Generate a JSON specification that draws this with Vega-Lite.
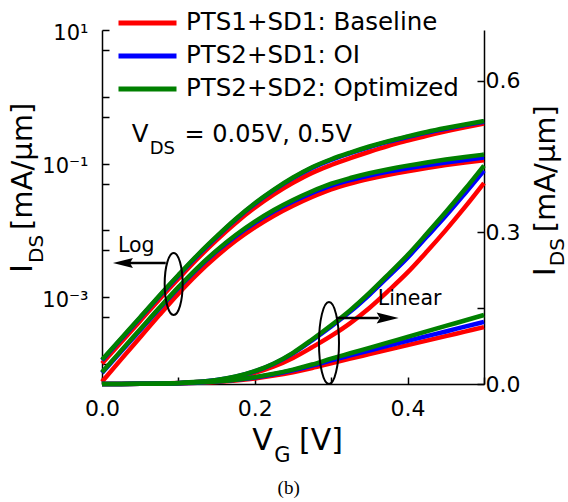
{
  "$schema": "https://vega.github.io/schema/vega-lite/v6.json",
  "width": 382,
  "height": 354,
  "autosize": {"type": "none"},
  "padding": {"left": 102, "top": 30, "right": 84, "bottom": 118},
  "background": "white",
  "config": {
    "view": {"stroke": null},
    "font": "DejaVu Sans",
    "axis": {"domainColor": "black", "domainWidth": 1.5, "tickColor": "black", "tickWidth": 1.5, "tickSize": -7, "labelColor": "black", "labelFont": "DejaVu Sans", "labelFontSize": 22, "grid": false, "labelOverlap": false, "labelFlush": false}
  },
  "datasets": {
    "iv": [
      {"dev": "PTS1+SD1: Baseline", "vds": 0.5, "vg": 0, "id": 0.0001012},
      {"dev": "PTS1+SD1: Baseline", "vds": 0.5, "vg": 0.025, "id": 0.000211},
      {"dev": "PTS1+SD1: Baseline", "vds": 0.5, "vg": 0.05, "id": 0.00044},
      {"dev": "PTS1+SD1: Baseline", "vds": 0.5, "vg": 0.075, "id": 0.000924},
      {"dev": "PTS1+SD1: Baseline", "vds": 0.5, "vg": 0.1, "id": 0.001883},
      {"dev": "PTS1+SD1: Baseline", "vds": 0.5, "vg": 0.125, "id": 0.00376},
      {"dev": "PTS1+SD1: Baseline", "vds": 0.5, "vg": 0.15, "id": 0.00713},
      {"dev": "PTS1+SD1: Baseline", "vds": 0.5, "vg": 0.175, "id": 0.01288},
      {"dev": "PTS1+SD1: Baseline", "vds": 0.5, "vg": 0.2, "id": 0.02184},
      {"dev": "PTS1+SD1: Baseline", "vds": 0.5, "vg": 0.225, "id": 0.0346},
      {"dev": "PTS1+SD1: Baseline", "vds": 0.5, "vg": 0.25, "id": 0.05152},
      {"dev": "PTS1+SD1: Baseline", "vds": 0.5, "vg": 0.275, "id": 0.0726},
      {"dev": "PTS1+SD1: Baseline", "vds": 0.5, "vg": 0.3, "id": 0.0951},
      {"dev": "PTS1+SD1: Baseline", "vds": 0.5, "vg": 0.325, "id": 0.1205},
      {"dev": "PTS1+SD1: Baseline", "vds": 0.5, "vg": 0.35, "id": 0.1503},
      {"dev": "PTS1+SD1: Baseline", "vds": 0.5, "vg": 0.375, "id": 0.1845},
      {"dev": "PTS1+SD1: Baseline", "vds": 0.5, "vg": 0.4, "id": 0.2206},
      {"dev": "PTS1+SD1: Baseline", "vds": 0.5, "vg": 0.425, "id": 0.2614},
      {"dev": "PTS1+SD1: Baseline", "vds": 0.5, "vg": 0.45, "id": 0.3043},
      {"dev": "PTS1+SD1: Baseline", "vds": 0.5, "vg": 0.475, "id": 0.3496},
      {"dev": "PTS1+SD1: Baseline", "vds": 0.5, "vg": 0.5, "id": 0.3974},
      {"dev": "PTS1+SD1: Baseline", "vds": 0.05, "vg": 0, "id": 0.000054},
      {"dev": "PTS1+SD1: Baseline", "vds": 0.05, "vg": 0.025, "id": 0.000117},
      {"dev": "PTS1+SD1: Baseline", "vds": 0.05, "vg": 0.05, "id": 0.000251},
      {"dev": "PTS1+SD1: Baseline", "vds": 0.05, "vg": 0.075, "id": 0.000538},
      {"dev": "PTS1+SD1: Baseline", "vds": 0.05, "vg": 0.1, "id": 0.001128},
      {"dev": "PTS1+SD1: Baseline", "vds": 0.05, "vg": 0.125, "id": 0.00223},
      {"dev": "PTS1+SD1: Baseline", "vds": 0.05, "vg": 0.15, "id": 0.00408},
      {"dev": "PTS1+SD1: Baseline", "vds": 0.05, "vg": 0.175, "id": 0.00697},
      {"dev": "PTS1+SD1: Baseline", "vds": 0.05, "vg": 0.2, "id": 0.01107},
      {"dev": "PTS1+SD1: Baseline", "vds": 0.05, "vg": 0.225, "id": 0.01656},
      {"dev": "PTS1+SD1: Baseline", "vds": 0.05, "vg": 0.25, "id": 0.02337},
      {"dev": "PTS1+SD1: Baseline", "vds": 0.05, "vg": 0.275, "id": 0.03157},
      {"dev": "PTS1+SD1: Baseline", "vds": 0.05, "vg": 0.3, "id": 0.041},
      {"dev": "PTS1+SD1: Baseline", "vds": 0.05, "vg": 0.325, "id": 0.05016},
      {"dev": "PTS1+SD1: Baseline", "vds": 0.05, "vg": 0.35, "id": 0.05907},
      {"dev": "PTS1+SD1: Baseline", "vds": 0.05, "vg": 0.375, "id": 0.06798},
      {"dev": "PTS1+SD1: Baseline", "vds": 0.05, "vg": 0.4, "id": 0.07689},
      {"dev": "PTS1+SD1: Baseline", "vds": 0.05, "vg": 0.425, "id": 0.0858},
      {"dev": "PTS1+SD1: Baseline", "vds": 0.05, "vg": 0.45, "id": 0.09471},
      {"dev": "PTS1+SD1: Baseline", "vds": 0.05, "vg": 0.475, "id": 0.1036},
      {"dev": "PTS1+SD1: Baseline", "vds": 0.05, "vg": 0.5, "id": 0.1125},
      {"dev": "PTS2+SD1: OI", "vds": 0.5, "vg": 0, "id": 0.000113},
      {"dev": "PTS2+SD1: OI", "vds": 0.5, "vg": 0.025, "id": 0.000235},
      {"dev": "PTS2+SD1: OI", "vds": 0.5, "vg": 0.05, "id": 0.00049},
      {"dev": "PTS2+SD1: OI", "vds": 0.5, "vg": 0.075, "id": 0.00103},
      {"dev": "PTS2+SD1: OI", "vds": 0.5, "vg": 0.1, "id": 0.0021},
      {"dev": "PTS2+SD1: OI", "vds": 0.5, "vg": 0.125, "id": 0.00418},
      {"dev": "PTS2+SD1: OI", "vds": 0.5, "vg": 0.15, "id": 0.00794},
      {"dev": "PTS2+SD1: OI", "vds": 0.5, "vg": 0.175, "id": 0.0145},
      {"dev": "PTS2+SD1: OI", "vds": 0.5, "vg": 0.2, "id": 0.0249},
      {"dev": "PTS2+SD1: OI", "vds": 0.5, "vg": 0.225, "id": 0.0399},
      {"dev": "PTS2+SD1: OI", "vds": 0.5, "vg": 0.25, "id": 0.0605},
      {"dev": "PTS2+SD1: OI", "vds": 0.5, "vg": 0.275, "id": 0.0862},
      {"dev": "PTS2+SD1: OI", "vds": 0.5, "vg": 0.3, "id": 0.1137},
      {"dev": "PTS2+SD1: OI", "vds": 0.5, "vg": 0.325, "id": 0.1431},
      {"dev": "PTS2+SD1: OI", "vds": 0.5, "vg": 0.35, "id": 0.1764},
      {"dev": "PTS2+SD1: OI", "vds": 0.5, "vg": 0.375, "id": 0.2127},
      {"dev": "PTS2+SD1: OI", "vds": 0.5, "vg": 0.4, "id": 0.2499},
      {"dev": "PTS2+SD1: OI", "vds": 0.5, "vg": 0.425, "id": 0.291},
      {"dev": "PTS2+SD1: OI", "vds": 0.5, "vg": 0.45, "id": 0.3325},
      {"dev": "PTS2+SD1: OI", "vds": 0.5, "vg": 0.475, "id": 0.3767},
      {"dev": "PTS2+SD1: OI", "vds": 0.5, "vg": 0.5, "id": 0.422},
      {"dev": "PTS2+SD1: OI", "vds": 0.05, "vg": 0, "id": 0.000073},
      {"dev": "PTS2+SD1: OI", "vds": 0.05, "vg": 0.025, "id": 0.000153},
      {"dev": "PTS2+SD1: OI", "vds": 0.05, "vg": 0.05, "id": 0.00032},
      {"dev": "PTS2+SD1: OI", "vds": 0.05, "vg": 0.075, "id": 0.00067},
      {"dev": "PTS2+SD1: OI", "vds": 0.05, "vg": 0.1, "id": 0.00137},
      {"dev": "PTS2+SD1: OI", "vds": 0.05, "vg": 0.125, "id": 0.00267},
      {"dev": "PTS2+SD1: OI", "vds": 0.05, "vg": 0.15, "id": 0.00485},
      {"dev": "PTS2+SD1: OI", "vds": 0.05, "vg": 0.175, "id": 0.0082},
      {"dev": "PTS2+SD1: OI", "vds": 0.05, "vg": 0.2, "id": 0.01296},
      {"dev": "PTS2+SD1: OI", "vds": 0.05, "vg": 0.225, "id": 0.01929},
      {"dev": "PTS2+SD1: OI", "vds": 0.05, "vg": 0.25, "id": 0.02708},
      {"dev": "PTS2+SD1: OI", "vds": 0.05, "vg": 0.275, "id": 0.03638},
      {"dev": "PTS2+SD1: OI", "vds": 0.05, "vg": 0.3, "id": 0.04675},
      {"dev": "PTS2+SD1: OI", "vds": 0.05, "vg": 0.325, "id": 0.05654},
      {"dev": "PTS2+SD1: OI", "vds": 0.05, "vg": 0.35, "id": 0.06623},
      {"dev": "PTS2+SD1: OI", "vds": 0.05, "vg": 0.375, "id": 0.07581},
      {"dev": "PTS2+SD1: OI", "vds": 0.05, "vg": 0.4, "id": 0.08528},
      {"dev": "PTS2+SD1: OI", "vds": 0.05, "vg": 0.425, "id": 0.09464},
      {"dev": "PTS2+SD1: OI", "vds": 0.05, "vg": 0.45, "id": 0.1039},
      {"dev": "PTS2+SD1: OI", "vds": 0.05, "vg": 0.475, "id": 0.1134},
      {"dev": "PTS2+SD1: OI", "vds": 0.05, "vg": 0.5, "id": 0.1228},
      {"dev": "PTS2+SD2: Optimized", "vds": 0.5, "vg": 0, "id": 0.000115},
      {"dev": "PTS2+SD2: Optimized", "vds": 0.5, "vg": 0.025, "id": 0.00024},
      {"dev": "PTS2+SD2: Optimized", "vds": 0.5, "vg": 0.05, "id": 0.0005},
      {"dev": "PTS2+SD2: Optimized", "vds": 0.5, "vg": 0.075, "id": 0.00105},
      {"dev": "PTS2+SD2: Optimized", "vds": 0.5, "vg": 0.1, "id": 0.00214},
      {"dev": "PTS2+SD2: Optimized", "vds": 0.5, "vg": 0.125, "id": 0.00427},
      {"dev": "PTS2+SD2: Optimized", "vds": 0.5, "vg": 0.15, "id": 0.0081},
      {"dev": "PTS2+SD2: Optimized", "vds": 0.5, "vg": 0.175, "id": 0.0148},
      {"dev": "PTS2+SD2: Optimized", "vds": 0.5, "vg": 0.2, "id": 0.0254},
      {"dev": "PTS2+SD2: Optimized", "vds": 0.5, "vg": 0.225, "id": 0.0407},
      {"dev": "PTS2+SD2: Optimized", "vds": 0.5, "vg": 0.25, "id": 0.0617},
      {"dev": "PTS2+SD2: Optimized", "vds": 0.5, "vg": 0.275, "id": 0.088},
      {"dev": "PTS2+SD2: Optimized", "vds": 0.5, "vg": 0.3, "id": 0.116},
      {"dev": "PTS2+SD2: Optimized", "vds": 0.5, "vg": 0.325, "id": 0.146},
      {"dev": "PTS2+SD2: Optimized", "vds": 0.5, "vg": 0.35, "id": 0.18},
      {"dev": "PTS2+SD2: Optimized", "vds": 0.5, "vg": 0.375, "id": 0.217},
      {"dev": "PTS2+SD2: Optimized", "vds": 0.5, "vg": 0.4, "id": 0.255},
      {"dev": "PTS2+SD2: Optimized", "vds": 0.5, "vg": 0.425, "id": 0.297},
      {"dev": "PTS2+SD2: Optimized", "vds": 0.5, "vg": 0.45, "id": 0.34},
      {"dev": "PTS2+SD2: Optimized", "vds": 0.5, "vg": 0.475, "id": 0.385},
      {"dev": "PTS2+SD2: Optimized", "vds": 0.5, "vg": 0.5, "id": 0.432},
      {"dev": "PTS2+SD2: Optimized", "vds": 0.05, "vg": 0, "id": 0.000075},
      {"dev": "PTS2+SD2: Optimized", "vds": 0.05, "vg": 0.025, "id": 0.000158},
      {"dev": "PTS2+SD2: Optimized", "vds": 0.05, "vg": 0.05, "id": 0.00033},
      {"dev": "PTS2+SD2: Optimized", "vds": 0.05, "vg": 0.075, "id": 0.00069},
      {"dev": "PTS2+SD2: Optimized", "vds": 0.05, "vg": 0.1, "id": 0.00141},
      {"dev": "PTS2+SD2: Optimized", "vds": 0.05, "vg": 0.125, "id": 0.00275},
      {"dev": "PTS2+SD2: Optimized", "vds": 0.05, "vg": 0.15, "id": 0.005},
      {"dev": "PTS2+SD2: Optimized", "vds": 0.05, "vg": 0.175, "id": 0.0085},
      {"dev": "PTS2+SD2: Optimized", "vds": 0.05, "vg": 0.2, "id": 0.0135},
      {"dev": "PTS2+SD2: Optimized", "vds": 0.05, "vg": 0.225, "id": 0.0202},
      {"dev": "PTS2+SD2: Optimized", "vds": 0.05, "vg": 0.25, "id": 0.0285},
      {"dev": "PTS2+SD2: Optimized", "vds": 0.05, "vg": 0.275, "id": 0.0385},
      {"dev": "PTS2+SD2: Optimized", "vds": 0.05, "vg": 0.3, "id": 0.05},
      {"dev": "PTS2+SD2: Optimized", "vds": 0.05, "vg": 0.325, "id": 0.0608},
      {"dev": "PTS2+SD2: Optimized", "vds": 0.05, "vg": 0.35, "id": 0.0716},
      {"dev": "PTS2+SD2: Optimized", "vds": 0.05, "vg": 0.375, "id": 0.0824},
      {"dev": "PTS2+SD2: Optimized", "vds": 0.05, "vg": 0.4, "id": 0.0932},
      {"dev": "PTS2+SD2: Optimized", "vds": 0.05, "vg": 0.425, "id": 0.104},
      {"dev": "PTS2+SD2: Optimized", "vds": 0.05, "vg": 0.45, "id": 0.1148},
      {"dev": "PTS2+SD2: Optimized", "vds": 0.05, "vg": 0.475, "id": 0.1256},
      {"dev": "PTS2+SD2: Optimized", "vds": 0.05, "vg": 0.5, "id": 0.1364}
    ]
  },
  "layer": [
    {
      "layer": [
        {
          "data": {"name": "iv"},
          "mark": {"type": "line", "strokeWidth": 4.5, "interpolate": "monotone", "strokeJoin": "round"},
          "encoding": {
            "x": {"field": "vg", "type": "quantitative", "scale": {"domain": [0, 0.5], "nice": false, "zero": false},
                  "axis": {"title": null, "values": [0, 0.1, 0.2, 0.3, 0.4, 0.5], "labelExpr": "datum.value == 0 || datum.value == 0.2 || datum.value == 0.4 ? format(datum.value, '.1f') : ''", "labelPadding": 21.6}},
            "y": {"field": "id", "type": "quantitative", "scale": {"type": "log", "domain": [0.00005, 10]},
                  "axis": {"title": null, "orient": "left", "values": [10, 5, 1, 0.5, 0.1, 0.05, 0.01, 0.005, 0.001, 0.0005, 0.0001, 0.00005], "labelExpr": "datum.value == 10 ? '10¹' : datum.value == 0.1 ? '10⁻¹' : datum.value == 0.001 ? '10⁻³' : ''", "labelFontSize": 21, "labelPadding": 21, "labelOffset": 3}},
            "color": {"field": "dev", "type": "nominal", "sort": null,
                      "scale": {"domain": ["PTS1+SD1: Baseline", "PTS2+SD1: OI", "PTS2+SD2: Optimized"], "range": ["#ff0000", "#0000ff", "#008000"]},
                      "legend": {"title": null, "orient": "none", "legendX": 14, "legendY": -21, "symbolType": "stroke", "symbolSize": 3364, "symbolStrokeWidth": 5, "labelFontSize": 24.5, "labelFont": "DejaVu Sans", "labelColor": "black", "labelOffset": 7, "clipHeight": 28, "rowPadding": 5, "padding": 0, "offset": 0, "labelLimit": 0}},
            "detail": {"field": "vds", "type": "nominal"}
          }
        },
        {
          "data": {"values": [{}]},
          "mark": {"type": "text", "text": "Log", "fontSize": 20.5, "align": "left", "baseline": "alphabetic", "color": "black"},
          "encoding": {
            "x": {"datum": 0.0208, "type": "quantitative", "scale": {"domain": [0, 0.5], "nice": false, "zero": false}},
            "y": {"datum": 0.00474, "type": "quantitative", "scale": {"type": "log", "domain": [0.00005, 10]}}
          }
        },
        {
          "data": {"values": [{}]},
          "mark": {"type": "rule", "strokeWidth": 2.5, "color": "black"},
          "encoding": {
            "x": {"datum": 0.026, "type": "quantitative", "scale": {"domain": [0, 0.5], "nice": false, "zero": false}},
            "x2": {"datum": 0.0834},
            "y": {"datum": 0.00324, "type": "quantitative", "scale": {"type": "log", "domain": [0.00005, 10]}}
          }
        },
        {
          "data": {"values": [{}]},
          "mark": {"type": "point", "shape": "M-1,0L1,-0.5L0.7,0L1,0.5Z", "size": 400, "filled": true, "color": "black", "opacity": 1},
          "encoding": {
            "x": {"datum": 0.0274, "type": "quantitative", "scale": {"domain": [0, 0.5], "nice": false, "zero": false}},
            "y": {"datum": 0.00324, "type": "quantitative", "scale": {"type": "log", "domain": [0.00005, 10]}}
          }
        },
        {
          "data": {"values": [{}]},
          "mark": {"type": "point", "shape": "M0,-1C0.16,-1,0.29,-0.55,0.29,0C0.29,0.55,0.16,1,0,1C-0.16,1,-0.29,0.55,-0.29,0C-0.29,-0.55,-0.16,-1,0,-1Z", "size": 3844, "filled": false, "color": "black", "strokeWidth": 2, "opacity": 1},
          "encoding": {
            "x": {"datum": 0.0938, "type": "quantitative", "scale": {"domain": [0, 0.5], "nice": false, "zero": false}},
            "y": {"datum": 0.001572, "type": "quantitative", "scale": {"type": "log", "domain": [0.00005, 10]}}
          }
        },
        {
          "data": {"values": [{}]},
          "mark": {"type": "text", "text": "V", "fontSize": 24.5, "align": "left", "baseline": "alphabetic", "color": "black"},
          "encoding": {
            "x": {"datum": 0.0391, "type": "quantitative", "scale": {"domain": [0, 0.5], "nice": false, "zero": false}},
            "y": {"datum": 0.2104, "type": "quantitative", "scale": {"type": "log", "domain": [0.00005, 10]}}
          }
        },
        {
          "data": {"values": [{}]},
          "mark": {"type": "text", "text": "DS", "fontSize": 18, "align": "left", "baseline": "alphabetic", "color": "black"},
          "encoding": {
            "x": {"datum": 0.0625, "type": "quantitative", "scale": {"domain": [0, 0.5], "nice": false, "zero": false}},
            "y": {"datum": 0.1367, "type": "quantitative", "scale": {"type": "log", "domain": [0.00005, 10]}}
          }
        },
        {
          "data": {"values": [{}]},
          "mark": {"type": "text", "text": "= 0.05V, 0.5V", "fontSize": 24, "align": "left", "baseline": "alphabetic", "color": "black"},
          "encoding": {
            "x": {"datum": 0.1081, "type": "quantitative", "scale": {"domain": [0, 0.5], "nice": false, "zero": false}},
            "y": {"datum": 0.2104, "type": "quantitative", "scale": {"type": "log", "domain": [0.00005, 10]}}
          }
        },
        {
          "data": {"values": [{}]},
          "mark": {"type": "text", "text": "I", "fontSize": 30, "angle": 270, "align": "left", "baseline": "alphabetic", "color": "black"},
          "encoding": {
            "x": {"datum": -0.0912, "type": "quantitative", "scale": {"domain": [0, 0.5], "nice": false, "zero": false}},
            "y": {"datum": 0.0023, "type": "quantitative", "scale": {"type": "log", "domain": [0.00005, 10]}}
          }
        },
        {
          "data": {"values": [{}]},
          "mark": {"type": "text", "text": "DS", "fontSize": 20, "angle": 270, "align": "left", "baseline": "alphabetic", "color": "black"},
          "encoding": {
            "x": {"datum": -0.0769, "type": "quantitative", "scale": {"domain": [0, 0.5], "nice": false, "zero": false}},
            "y": {"datum": 0.00324, "type": "quantitative", "scale": {"type": "log", "domain": [0.00005, 10]}}
          }
        },
        {
          "data": {"values": [{}]},
          "mark": {"type": "text", "text": "[mA/μm]", "fontSize": 29, "angle": 270, "align": "left", "baseline": "alphabetic", "color": "black"},
          "encoding": {
            "x": {"datum": -0.0912, "type": "quantitative", "scale": {"domain": [0, 0.5], "nice": false, "zero": false}},
            "y": {"datum": 0.01012, "type": "quantitative", "scale": {"type": "log", "domain": [0.00005, 10]}}
          }
        }
      ]
    },
    {
      "layer": [
        {
          "data": {"name": "iv"},
          "mark": {"type": "line", "strokeWidth": 4.5, "interpolate": "monotone", "strokeJoin": "round"},
          "encoding": {
            "x": {"field": "vg", "type": "quantitative", "scale": {"domain": [0, 0.5], "nice": false, "zero": false}},
            "y": {"field": "id", "type": "quantitative", "scale": {"domain": [0, 0.7], "nice": false, "zero": false},
                  "axis": {"title": null, "orient": "right", "values": [0, 0.15, 0.3, 0.45, 0.6], "labelExpr": "datum.value == 0 || datum.value == 0.3 || datum.value == 0.6 ? format(datum.value, '.1f') : ''", "labelPadding": 8}},
            "color": {"field": "dev", "type": "nominal", "sort": null,
                      "scale": {"domain": ["PTS1+SD1: Baseline", "PTS2+SD1: OI", "PTS2+SD2: Optimized"], "range": ["#ff0000", "#0000ff", "#008000"]},
                      "legend": {"title": null, "orient": "none", "legendX": 14, "legendY": -21, "symbolType": "stroke", "symbolSize": 3364, "symbolStrokeWidth": 5, "labelFontSize": 24.5, "labelFont": "DejaVu Sans", "labelColor": "black", "labelOffset": 7, "clipHeight": 28, "rowPadding": 5, "padding": 0, "offset": 0, "labelLimit": 0}},
            "detail": {"field": "vds", "type": "nominal"}
          }
        },
        {
          "data": {"values": [{}]},
          "mark": {"type": "text", "text": "Linear", "fontSize": 20.5, "align": "left", "baseline": "alphabetic", "color": "black"},
          "encoding": {
            "x": {"datum": 0.3609, "type": "quantitative", "scale": {"domain": [0, 0.5], "nice": false, "zero": false}},
            "y": {"datum": 0.1559, "type": "quantitative", "scale": {"domain": [0, 0.7], "nice": false, "zero": false}}
          }
        },
        {
          "data": {"values": [{}]},
          "mark": {"type": "rule", "strokeWidth": 2.5, "color": "black"},
          "encoding": {
            "x": {"datum": 0.3062, "type": "quantitative", "scale": {"domain": [0, 0.5], "nice": false, "zero": false}},
            "x2": {"datum": 0.3622},
            "y": {"datum": 0.1303, "type": "quantitative", "scale": {"domain": [0, 0.7], "nice": false, "zero": false}}
          }
        },
        {
          "data": {"values": [{}]},
          "mark": {"type": "point", "shape": "M1,0L-1,-0.5L-0.7,0L-1,0.5Z", "size": 484, "filled": true, "color": "black", "opacity": 1},
          "encoding": {
            "x": {"datum": 0.3739, "type": "quantitative", "scale": {"domain": [0, 0.5], "nice": false, "zero": false}},
            "y": {"datum": 0.1303, "type": "quantitative", "scale": {"domain": [0, 0.7], "nice": false, "zero": false}}
          }
        },
        {
          "data": {"values": [{}]},
          "mark": {"type": "point", "shape": "M0,-1C0.135,-1,0.244,-0.55,0.244,0C0.244,0.55,0.135,1,0,1C-0.135,1,-0.244,0.55,-0.244,0C-0.244,-0.55,-0.135,-1,0,-1Z", "size": 6724, "filled": false, "color": "black", "strokeWidth": 2, "opacity": 1},
          "encoding": {
            "x": {"datum": 0.2971, "type": "quantitative", "scale": {"domain": [0, 0.5], "nice": false, "zero": false}},
            "y": {"datum": 0.0809, "type": "quantitative", "scale": {"domain": [0, 0.7], "nice": false, "zero": false}}
          }
        },
        {
          "data": {"values": [{}]},
          "mark": {"type": "text", "text": "I", "fontSize": 30, "angle": 270, "align": "left", "baseline": "alphabetic", "color": "black"},
          "encoding": {
            "x": {"datum": 0.5928, "type": "quantitative", "scale": {"domain": [0, 0.5], "nice": false, "zero": false}},
            "y": {"datum": 0.2132, "type": "quantitative", "scale": {"domain": [0, 0.7], "nice": false, "zero": false}}
          }
        },
        {
          "data": {"values": [{}]},
          "mark": {"type": "text", "text": "DS", "fontSize": 20, "angle": 270, "align": "left", "baseline": "alphabetic", "color": "black"},
          "encoding": {
            "x": {"datum": 0.6046, "type": "quantitative", "scale": {"domain": [0, 0.5], "nice": false, "zero": false}},
            "y": {"datum": 0.2329, "type": "quantitative", "scale": {"domain": [0, 0.7], "nice": false, "zero": false}}
          }
        },
        {
          "data": {"values": [{}]},
          "mark": {"type": "text", "text": "[mA/μm]", "fontSize": 29, "angle": 270, "align": "left", "baseline": "alphabetic", "color": "black"},
          "encoding": {
            "x": {"datum": 0.5928, "type": "quantitative", "scale": {"domain": [0, 0.5], "nice": false, "zero": false}},
            "y": {"datum": 0.30, "type": "quantitative", "scale": {"domain": [0, 0.7], "nice": false, "zero": false}}
          }
        },
        {
          "data": {"values": [{}]},
          "mark": {"type": "text", "text": "V", "fontSize": 30, "align": "left", "baseline": "alphabetic", "color": "black"},
          "encoding": {
            "x": {"datum": 0.1967, "type": "quantitative", "scale": {"domain": [0, 0.5], "nice": false, "zero": false}},
            "y": {"datum": -0.1303, "type": "quantitative", "scale": {"domain": [0, 0.7], "nice": false, "zero": false}}
          }
        },
        {
          "data": {"values": [{}]},
          "mark": {"type": "text", "text": "G", "fontSize": 21, "align": "left", "baseline": "alphabetic", "color": "black"},
          "encoding": {
            "x": {"datum": 0.2254, "type": "quantitative", "scale": {"domain": [0, 0.5], "nice": false, "zero": false}},
            "y": {"datum": -0.1539, "type": "quantitative", "scale": {"domain": [0, 0.7], "nice": false, "zero": false}}
          }
        },
        {
          "data": {"values": [{}]},
          "mark": {"type": "text", "text": "[V]", "fontSize": 30, "align": "left", "baseline": "alphabetic", "color": "black"},
          "encoding": {
            "x": {"datum": 0.258, "type": "quantitative", "scale": {"domain": [0, 0.5], "nice": false, "zero": false}},
            "y": {"datum": -0.1303, "type": "quantitative", "scale": {"domain": [0, 0.7], "nice": false, "zero": false}}
          }
        },
        {
          "data": {"values": [{}]},
          "mark": {"type": "text", "text": "(b)", "fontSize": 19, "font": "Liberation Serif", "align": "center", "baseline": "alphabetic", "color": "black"},
          "encoding": {
            "x": {"datum": 0.2443, "type": "quantitative", "scale": {"domain": [0, 0.5], "nice": false, "zero": false}},
            "y": {"datum": -0.2171, "type": "quantitative", "scale": {"domain": [0, 0.7], "nice": false, "zero": false}}
          }
        }
      ]
    }
  ],
  "resolve": {"scale": {"y": "independent"}, "axis": {"y": "independent"}}
}
